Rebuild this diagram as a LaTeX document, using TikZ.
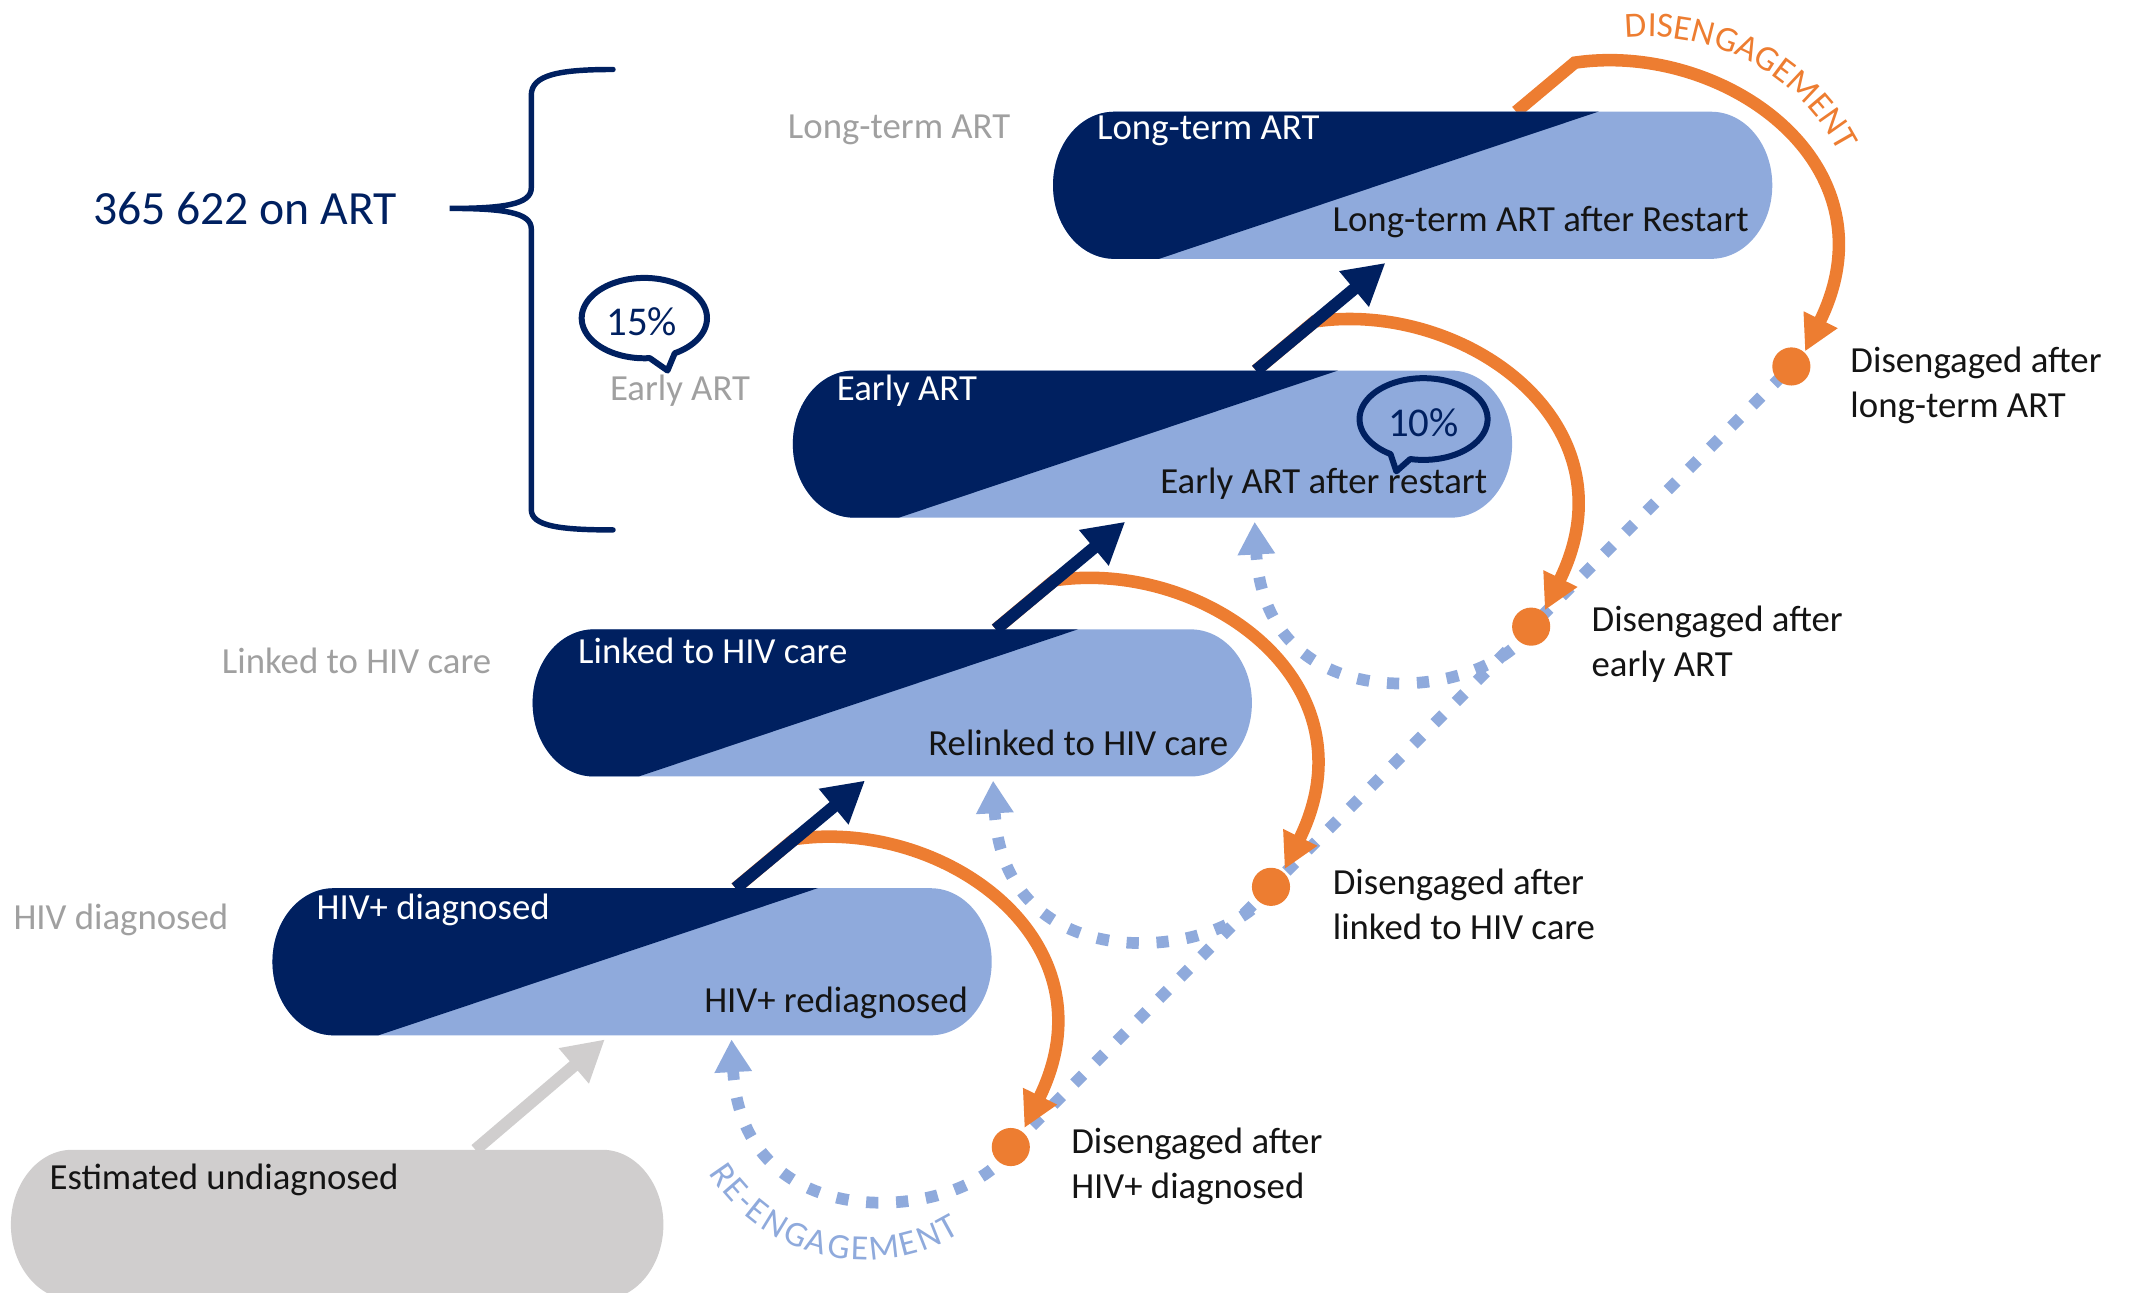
\documentclass[tikz,border=0pt]{standalone}
\usepackage{fontspec}
\setmainfont{Carlito}
\usetikzlibrary{arrows.meta}
\definecolor{navy}{RGB}{0,32,96}
\definecolor{lblue}{RGB}{143,170,220}
\definecolor{dorange}{RGB}{237,125,49}
\definecolor{gtxt}{RGB}{160,160,160}
\definecolor{gpill}{RGB}{208,206,206}
\definecolor{dtxt}{RGB}{20,20,20}
\begin{document}
\begin{tikzpicture}[x=0.5pt,y=-0.5pt,
  lbl/.style={font=\fontsize{13.5}{16.5}\selectfont, inner sep=0pt},
  wlbl/.style={lbl, text=white, anchor=west},
  dlbl/.style={lbl, text=dtxt, anchor=east},
  glbl/.style={lbl, text=gtxt, anchor=east},
  disl/.style={lbl, text=dtxt, anchor=west, align=left},
  arcletter/.style={font=\fontsize{13}{15}\selectfont, inner sep=0pt, anchor=base},
  navyarr/.style={draw=navy, line width=4.5pt, -{Triangle[width=16pt,length=15pt]}},
  greyarr/.style={draw=gpill, line width=4.5pt, -{Triangle[width=16pt,length=15pt]}},
  orgarr/.style={draw=dorange, line width=4.6pt, line join=miter, -{Triangle[width=13pt,length=13pt]}},
  reeng/.style={draw=lblue, line width=4.3pt, dash pattern=on 4.5pt off 6.5pt},
  reengarr/.style={reeng, -{Triangle[width=13pt,length=12pt]}},
  bubble/.style={draw=navy, line width=2.2pt, line join=round},
  pct/.style={font=\fontsize{15}{18}\selectfont, text=navy, inner sep=0pt}
]
\useasboundingbox (0,0) rectangle (1568,949);
\clip (0,0) rectangle (1568,949);

% key points
\coordinate (d0) at (742,842);
\coordinate (d1) at (933,651);
\coordinate (d2) at (1124,460);
\coordinate (d3) at (1315,269);
\coordinate (t0) at (537,763);
\coordinate (t1) at (729,573);
\coordinate (t2) at (921,383);

% re-engagement dashed lines
\draw[reeng] (d0) -- (d3);
\foreach \k in {0,1,2}{
  \draw[reengarr] (d\k) .. controls +(-27,53) and +(8,152) .. (t\k);
}

% disengagement orange arrows
\foreach \k in {0,1,2,3}{
  \coordinate (s\k) at ({540+191*\k},{652-190*\k});
  \coordinate (c\k) at ({583+191*\k},{616-190*\k});
  \coordinate (e\k) at ({752+191*\k},{828-190*\k});
  \draw[orgarr] (s\k) -- (c\k) .. controls +(109,-16) and +(68,-138) .. (e\k);
}

% estimated undiagnosed pill
\fill[gpill] (53,844) -- (442,844) .. controls (467,844) and (487,869) .. (487,899)
  .. controls (487,929) and (467,954) .. (442,954) -- (53,954)
  .. controls (28,954) and (8,929) .. (8,899) .. controls (8,869) and (28,844) .. (53,844) -- cycle;

% cascade pills
\foreach \k in {0,1,2,3}{
  \begin{scope}[shift={(191*\k,-190*\k)}]
    \clip (245,652) -- (683,652) .. controls (708,652) and (728,676) .. (728,706)
      .. controls (728,736) and (708,760) .. (683,760) -- (245,760)
      .. controls (220,760) and (200,736) .. (200,706) .. controls (200,676) and (220,652) .. (245,652) -- cycle;
    \fill[lblue] (190,640) rectangle (740,770);
    \fill[navy] (636,640) -- (248,770) -- (190,770) -- (190,640) -- cycle;
  \end{scope}
}

% navy progression arrows
\foreach \k in {0,1,2}{
  \coordinate (a\k) at ({540+191*\k},{652-190*\k});
  \coordinate (b\k) at ({635+191*\k},{573-190*\k});
  \draw[navyarr] (a\k) -- (b\k);
}
\coordinate (ga) at (349,844);
\coordinate (gb) at (444,763);
\draw[greyarr] (ga) -- (gb);

% disengaged dots
\foreach \k in {0,1,2,3}{
  \fill[dorange] (d\k) circle (7pt);
}

% brace
\draw[navy, line width=2pt, line cap=round]
  (450,51) .. controls (410,51) and (390,55) .. (390,70) -- (390,138)
  .. controls (390,150) and (370,153) .. (330,153)
  .. controls (370,153) and (390,156) .. (390,168) -- (390,374)
  .. controls (390,386) and (410,389) .. (450,389);
\node[lbl, text=navy, anchor=west, font=\fontsize{17.5}{21}\selectfont] (total) at (68,153) {365 622 on ART};

% speech bubbles
\draw[bubble] plot[domain=61:-275, samples=90, smooth] ({473+46*cos(\x)},{233.5+29.5*sin(\x)}) -- (490,272) -- cycle;
\node[pct] (p15) at (471,236) {15\%};
\draw[bubble] plot[domain=102:-239, samples=90, smooth] ({1045+47*cos(\x)},{307.6+30*sin(\x)}) -- (1025,346) -- cycle;
\node[pct] (p10) at (1045,310) {10\%};

% curved captions, letter by letter
\foreach \ch/\c [count=\i] in {D/0.3075,I/0.741,S/1.0965,E/1.570,N/2.137,G/2.7755,A/3.3805,G/3.9855,E/4.545,M/5.2165,E/5.888,N/6.455,T/7.0215}{
  \pgfmathsetmacro\th{-96+\c*9.43}
  \pgfmathsetmacro\rot{-(\th+90)}
  \node[arcletter, text=dorange, rotate=\rot] (dis\i) at ({1210+158*cos(\th)},{185+158*sin(\th)}) {\ch};
}
\foreach \ch/\c [count=\i] in {R/0.2715,E/0.787,-/1.184,E/1.581,N/2.148,G/2.7865,A/3.3915,G/3.9965,E/4.556,M/5.2275,E/5.899,N/6.466,T/7.0325}{
  \pgfmathsetmacro\th{149-(\c+0.07*\i)*11.03}
  \pgfmathsetmacro\rot{90-\th}
  \node[arcletter, text=lblue, rotate=\rot] (ree\i) at ({635+135*cos(\th)},{790+135*sin(\th)}) {\ch};
}

% pill labels
\node[wlbl] (w0) at (232,668) {HIV+ diagnosed};
\node[wlbl] (w1) at (424,478) {Linked to HIV care};
\node[wlbl] (w2) at (614,287) {Early ART};
\node[wlbl] (w3) at (805,96) {Long-term ART};
\node[dlbl] (r0) at (711,736) {HIV+ rediagnosed};
\node[dlbl] (r1) at (902,545) {Relinked to HIV care};
\node[dlbl] (r2) at (1092,355) {Early ART after restart};
\node[dlbl] (r3) at (1284,163) {Long-term ART after Restart};
\node[lbl, text=dtxt, anchor=west] (u) at (36,866) {Estimated undiagnosed};

% grey stage labels
\node[glbl] (g0) at (168,675) {HIV diagnosed};
\node[glbl] (g1) at (361,485) {Linked to HIV care};
\node[glbl] (g2) at (551,287) {Early ART};
\node[glbl] (g3) at (742,95) {Long-term ART};

% disengaged labels
\node[disl] (x0) at (786,856) {Disengaged after\\HIV+ diagnosed};
\node[disl] (x1) at (978,664) {Disengaged after\\linked to HIV care};
\node[disl] (x2) at (1168,473) {Disengaged after\\early ART};
\node[disl] (x3) at (1358,283) {Disengaged after\\long-term ART};
\end{tikzpicture}
\end{document}
